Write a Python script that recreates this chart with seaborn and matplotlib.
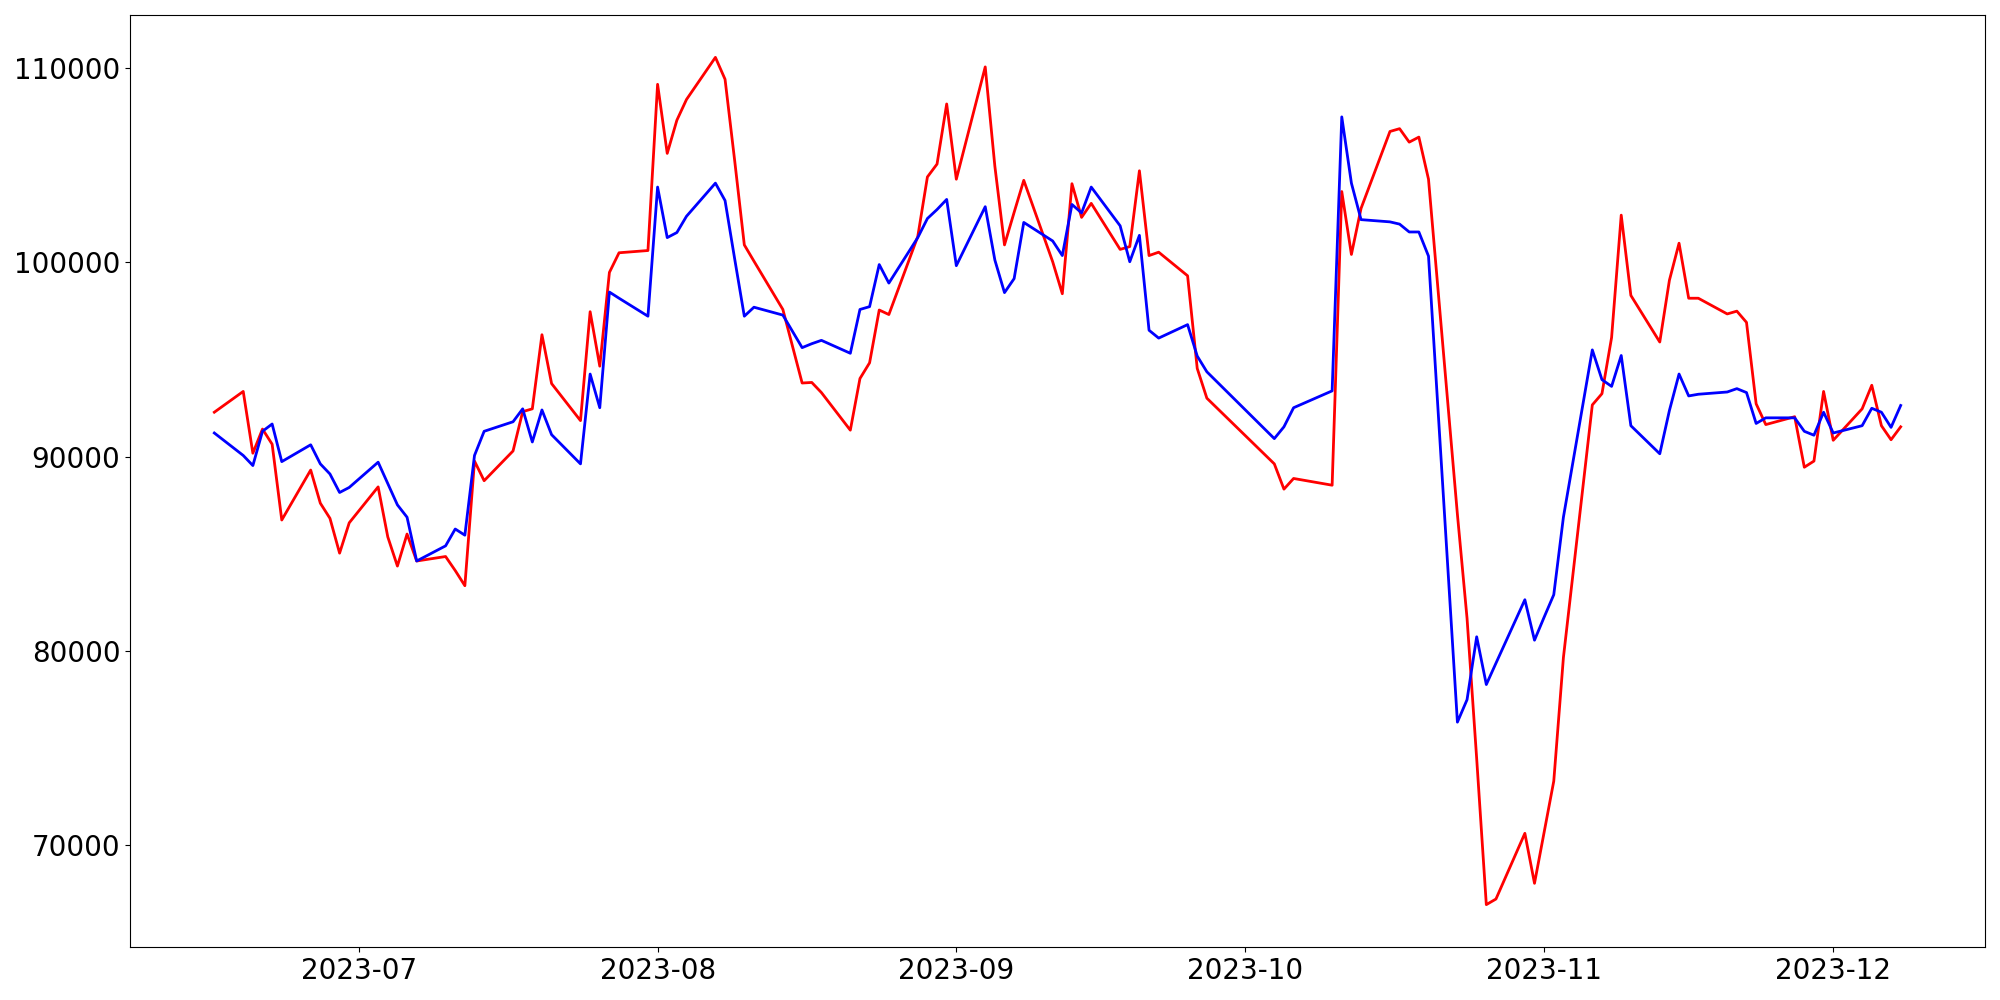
import pandas as pd
import matplotlib
matplotlib.use("Agg")
import matplotlib.pyplot as plt
import matplotlib.dates as mdates
import seaborn as sns

# trading days (Korean market calendar, holidays removed)
start_date = "2023-06-16"
end_date = "2023-12-08"
holidays = ["2023-08-15", "2023-09-28", "2023-09-29", "2023-10-02", "2023-10-03", "2023-10-09"]

red_values = [
    92283, 93354, 90170, 91415, 90634, 86727, 89302, 87595, 86813, 85019, 86582,
    88434, 85858, 84353, 86003, 84614, 84845, 84122, 83341, 89765, 88752,
    90286, 92312, 92457, 96277, 93759, 91849, 97463, 94656, 99489, 100501, 100617,
    109184, 105624, 107332, 108402, 110573, 109444, 105248, 100907, 100068, 97579,
    93788, 93817, 93296, 91357, 94019, 94830, 97550, 97318, 101341, 104409, 105074, 108171,
    104293, 110081, 104959, 100907, 102586, 104235, 100039, 98389, 104061, 102325,
    103048, 100675, 100820, 104727, 100357, 100531, 99315, 94540, 93006,
    89620, 88318, 88868, 88521, 103657, 100415, 102788, 106753, 106897, 106203,
    106463, 104293, 87016, 81662, 74427, 66902, 67191, 70577, 68001,
    70635, 73269, 79636, 92659, 93238, 96132, 102441, 98303, 95900, 99084, 100994,
    98158, 98158, 97348, 97492, 96913, 92717, 91646, 92051, 89447, 89765, 93354,
    90836, 92457, 93672, 91588, 90865, 91530,
]

blue_values = [
    91212, 90054, 89533, 91299, 91675, 89736, 90604, 89620, 89099, 88145, 88405,
    89707, 88607, 87507, 86871, 84614, 85395, 86263, 85945, 90054, 91299,
    91791, 92457, 90749, 92399, 91125, 89620, 94250, 92514, 98476, 98158, 97232,
    103888, 101283, 101544, 102383, 104090, 103193, 100184, 97232, 97695, 97289,
    95611, 95814, 95987, 95321, 97579, 97724, 99894, 98939, 101283, 102267, 102730, 103251,
    99836, 102875, 100126, 98447, 99171, 102065, 101110, 100357, 102991, 102556,
    103888, 101891, 100039, 101399, 96508, 96103, 96797, 95177, 94366,
    90923, 91531, 92514, 93383, 107505, 104090, 102209, 102094, 101978, 101573,
    101573, 100329, 76308, 77466, 80707, 78247, 79347, 82617, 80533,
    81720, 82877, 86871, 95495, 93961, 93614, 95206, 91588, 90141, 92370, 94251,
    93122, 93209, 93325, 93498, 93296, 91704, 91993, 91993, 91299, 91097, 92283,
    91212, 91588, 92486, 92283, 91502, 92630,
]

dates = pd.bdate_range(start_date, end_date)
dates = dates[~dates.isin(pd.to_datetime(holidays))]

df = pd.DataFrame({"date": dates, "red": red_values, "blue": blue_values})

fig, ax = plt.subplots(figsize=(20, 10), dpi=100)
sns.lineplot(x="date", y="red", data=df, color="red", linewidth=2, ax=ax)
sns.lineplot(x="date", y="blue", data=df, color="blue", linewidth=2, ax=ax)

ax.xaxis.set_major_locator(mdates.MonthLocator())
ax.xaxis.set_major_formatter(mdates.DateFormatter("%Y-%m"))
ax.tick_params(labelsize=20)
ax.set_xlabel("")
ax.set_ylabel("")

plt.subplots_adjust(left=0.065, right=0.9925, top=0.985, bottom=0.053)
plt.savefig("out.png")
